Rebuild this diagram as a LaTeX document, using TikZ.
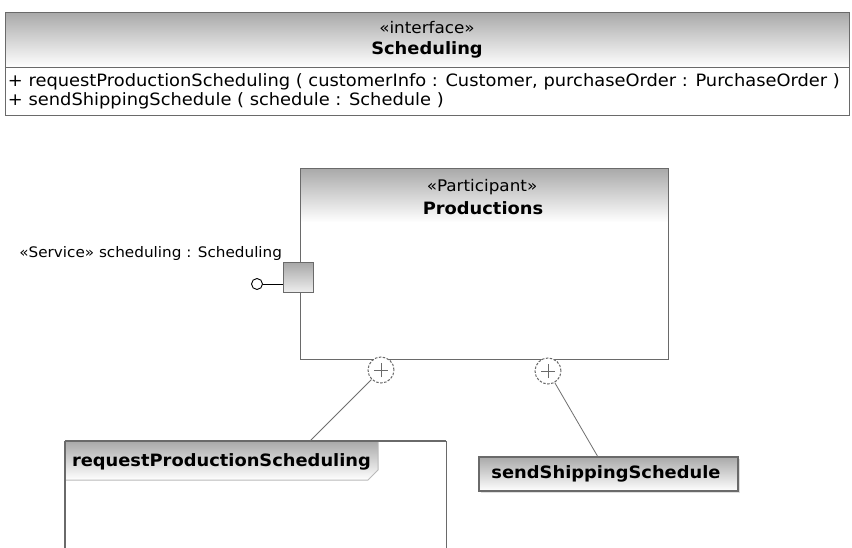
\documentclass[tikz,border=0pt]{standalone}
\usepackage{fontspec}
\setmainfont{DejaVu Sans}[FakeStretch=1.05]
\usetikzlibrary{calc,shadows}
\definecolor{bordc}{HTML}{6A6A6A}
\definecolor{hdrtop}{HTML}{A9A9A9}
\definecolor{conc}{HTML}{6F6F6F}
\tikzset{
  bord/.style={draw=bordc, line width=1.3pt},
  hdr/.style={top color=hdrtop, bottom color=white, draw=none},
  txt/.style={inner sep=0pt, outer sep=0pt, text=black},
  conn/.style={draw=conc, line width=0.8pt},
  plusc/.style={circle, draw=bordc, line width=1pt, dash pattern=on 2.5pt off 1.5pt, fill=white, minimum size=26pt, inner sep=0pt,
    path picture={\draw[bordc, line width=1pt, solid] ([xshift=-7pt]path picture bounding box.center) -- ([xshift=7pt]path picture bounding box.center);
                  \draw[bordc, line width=1pt, solid] ([yshift=-7pt]path picture bounding box.center) -- ([yshift=7pt]path picture bounding box.center);}},
  opfont/.style={font=\fontsize{17}{19}\selectfont},
  stfont/.style={font=\fontsize{16}{18}\selectfont},
  bfont/.style={font=\fontsize{17}{19}\selectfont\bfseries},
}
\begin{document}
\begin{tikzpicture}[x=1pt,y=-1pt]
\useasboundingbox (0,0) rectangle (852,548);
\clip (0,0) rectangle (852,548);
\fill[white] (0,0) rectangle (852,548);

% Interface Scheduling
\node[hdr, minimum width=844pt, minimum height=55pt, anchor=north west, inner sep=0pt] (ifhead) at (5,12) {};
\node[bord, minimum width=844pt, minimum height=103pt, anchor=north west, inner sep=0pt] (iface) at (5,12) {};
\draw[bord] (ifhead.south west) -- (ifhead.south east);
\node[txt, stfont] (ifst) at (427,28) {«interface»};
\node[txt, bfont] (ifname) at (427,50) {Scheduling};
\node[txt, anchor=west, opfont] (op1) at (8,82) {+ requestProductionScheduling ( customerInfo : Customer, purchaseOrder : PurchaseOrder )};
\node[txt, anchor=west, opfont] (op2) at (8,101) {+ sendShippingSchedule ( schedule : Schedule )};

% Productions participant
\node[hdr, minimum width=368pt, minimum height=54pt, anchor=north west, inner sep=0pt] (prodhead) at (300,168) {};
\node[bord, minimum width=368pt, minimum height=191pt, anchor=north west, inner sep=0pt] (prod) at (300,168) {};
\node[txt, stfont] (prodst) at (482,187) {«Participant»};
\node[txt, bfont] (prodname) at (483,208) {Productions};

% Service port
\node[bord, line width=1pt, top color=hdrtop, bottom color=gray!12, minimum size=30pt, inner sep=0pt] (port) at (298,278) {};
\node[circle, draw=black, line width=0.9pt, fill=white, minimum size=11pt, inner sep=0pt] (lol) at (257,284) {};
\draw[black, line width=0.9pt] (lol) -- (port.west |- lol);
\node[txt, anchor=east, font=\fontsize{14.5}{17}\selectfont] (svc) at (282,254) {«Service» scheduling : Scheduling};

% Owned behaviour markers
\node[plusc] (p1) at (381,370) {};
\node[plusc] (p2) at (548,371) {};

% requestProductionScheduling frame
\node[bord, minimum width=381pt, minimum height=140pt, anchor=north west, inner sep=0pt] (rps) at (65,441) {};
\shade[top color=hdrtop, bottom color=white] (65,441) -- (378,441) -- (378,470) -- (368,480) -- (65,480) -- cycle;
\draw[gray!55, line width=1pt] (378,441) -- (378,470) -- (368,480) -- (65,480);
\draw[bord] (65,441) -- (446,441);
\draw[bord] (65,441) -- (65,560);
\node[txt, anchor=west, bfont] (rpsname) at (72,462) {requestProductionScheduling};

% sendShippingSchedule
\node[bord, top color=hdrtop, bottom color=white, minimum width=259pt, minimum height=34pt, inner sep=0pt,
      drop shadow={shadow xshift=1.5pt, shadow yshift=-1.5pt, fill=gray!50}] (sss) at (608.5,474) {};
\node[txt, bfont] (sssname) at (606,474) {sendShippingSchedule};

% connectors
\coordinate (c1) at (310,441);
\coordinate (c2) at (598,457);
\draw[conn] (p1) -- (c1);
\draw[conn] (p2) -- (c2);
\end{tikzpicture}
\end{document}
